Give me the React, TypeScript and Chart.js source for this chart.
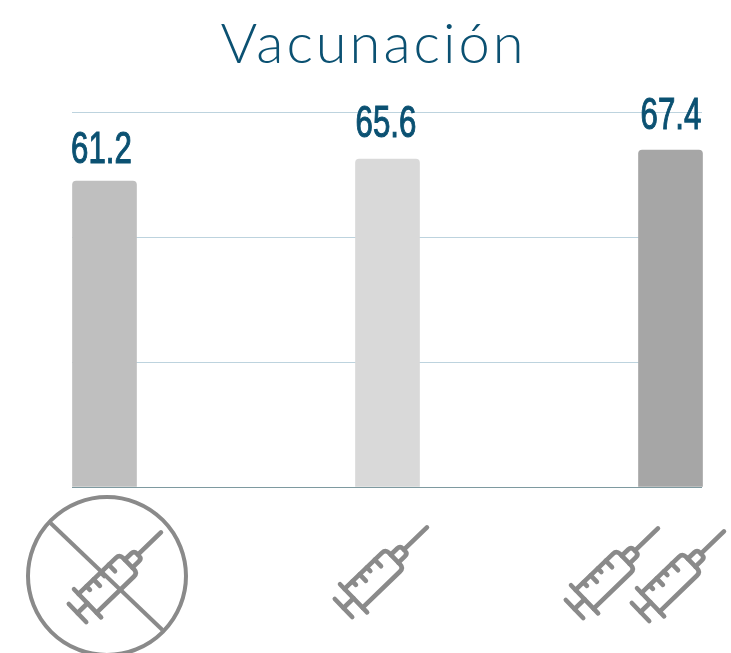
import React, { useEffect, useRef } from "react";
import { Chart, registerables } from "chart.js";

Chart.register(...registerables);

const categories = ["Sin vacuna", "Una dosis", "Dos dosis"];
const values = [61.2, 65.6, 67.4];
const barColors = ["#BFBFBF", "#D9D9D9", "#A6A6A6"];
const doses = [0, 1, 2];
const yTicks = [0, 25, 50, 75];
const titleText = "Vacunación";

const BLUE = "#0B5172";
const ICON = "#8A8A8A";
const labelShift = [[-3, -18], [-1.5, -22], [0.5, -21]];

function syringe(ctx: CanvasRenderingContext2D, hx: number, hy: number) {
  ctx.save();
  ctx.translate(hx, hy);
  ctx.rotate(-Math.PI / 180 * 44);
  ctx.strokeStyle = ICON;
  ctx.lineWidth = 4.6;
  ctx.lineCap = "round";
  ctx.lineJoin = "round";
  const line = (a: number, b: number, c: number, d: number) => {
    ctx.beginPath();
    ctx.moveTo(a, b);
    ctx.lineTo(c, d);
    ctx.stroke();
  };
  line(0, -12.5, 0, 12.5);
  line(0, 0, 14, 0);
  line(14, -19.5, 14, 19.5);
  ctx.beginPath();
  ctx.moveTo(14, -13);
  ctx.lineTo(66, -13);
  ctx.quadraticCurveTo(71, -13, 71, -8);
  ctx.lineTo(71, 8);
  ctx.quadraticCurveTo(71, 13, 66, 13);
  ctx.lineTo(14, 13);
  ctx.stroke();
  ctx.beginPath();
  ctx.moveTo(71, -5.5);
  ctx.lineTo(80, -5.5);
  ctx.quadraticCurveTo(84, -5.5, 84, -1.5);
  ctx.lineTo(84, 1.5);
  ctx.quadraticCurveTo(84, 5.5, 80, 5.5);
  ctx.lineTo(71, 5.5);
  ctx.stroke();
  line(84, 0, 116, 0);
  [[25, 5], [35, 9], [45, 5], [56, 9]].forEach(([t, l]) => line(t, -13, t, -13 + l));
  ctx.restore();
}

const decor = {
  id: "decor",
  beforeDraw(chart: any) {
    (chart.ctx as any).letterSpacing = "3px";
  },
  afterDatasetsDraw(chart: any) {
    const ctx: CanvasRenderingContext2D = chart.ctx;
    (ctx as any).letterSpacing = "0px";
    const meta = chart.getDatasetMeta(0);
    ctx.save();
    ctx.fillStyle = BLUE;
    ctx.strokeStyle = BLUE;
    ctx.lineWidth = 1.1;
    ctx.textAlign = "center";
    ctx.textBaseline = "alphabetic";
    ctx.font = '44px "Liberation Sans Narrow", "Liberation Sans"';
    meta.data.forEach((bar: any, i: number) => {
      ctx.save();
      ctx.translate(bar.x + labelShift[i][0], bar.y + labelShift[i][1]);
      ctx.scale(0.71, 1);
      ctx.fillText(values[i].toFixed(1), 0, 0);
      ctx.strokeText(values[i].toFixed(1), 0, 0);
      ctx.restore();
    });
    ctx.restore();

    const base = chart.chartArea.bottom;
    meta.data.forEach((bar: any, i: number) => {
      const n = doses[i];
      if (n === 0) {
        ctx.save();
        ctx.strokeStyle = ICON;
        ctx.lineWidth = 4;
        ctx.beginPath();
        ctx.arc(bar.x + 2.5, base + 89, 79, 0, Math.PI * 2);
        ctx.stroke();
        ctx.beginPath();
        ctx.moveTo(bar.x - 54, base + 36);
        ctx.lineTo(bar.x + 58, base + 143);
        ctx.stroke();
        ctx.restore();
        syringe(ctx, bar.x - 27, base + 126);
      } else if (n === 1) {
        syringe(ctx, bar.x - 44, base + 121);
      } else {
        syringe(ctx, bar.x - 96, base + 122);
        syringe(ctx, bar.x - 30, base + 125);
      }
    });
  },
};

export default function App() {
  const ref = useRef<HTMLCanvasElement>(null);
  useEffect(() => {
    const chart = new Chart(ref.current!, {
      type: "bar",
      data: {
        datasets: [
          {
            data: categories.map((_, i) => ({ x: i, y: values[i] })) as any,
            backgroundColor: barColors,
            barThickness: 64,
            borderRadius: { topLeft: 4, topRight: 4, bottomLeft: 0, bottomRight: 0 },
            borderSkipped: "bottom",
            clip: false as any,
          },
        ],
      },
      options: {
        animation: false,
        responsive: false,
        layout: { padding: { left: 45, right: 29, top: 0, bottom: 166 } },
        plugins: {
          legend: { display: false },
          tooltip: { enabled: false },
          title: {
            display: true,
            text: titleText,
            color: BLUE,
            font: { family: "Lato", size: 56, weight: "300", lineHeight: 1.2 },
            padding: { top: 11, bottom: 34 },
          },
        },
        scales: {
          x: {
            type: "linear",
            offset: false,
            min: -0.1148,
            max: 2.1113,
            display: false,
          },
          y: {
            min: 0,
            max: 75,
            afterBuildTicks: (s: any) => {
              s.ticks = yTicks.map((value) => ({ value }));
            },
            afterFit: (s: any) => {
              s.width = 27;
            },
            ticks: { display: false },
            border: { display: false },
            grid: {
              tickLength: 0,
              lineWidth: 1,
              color: (c: any) => (c.tick && c.tick.value === 0 ? "#7E9AA0" : "#BDD3DE"),
            },
          },
        },
      },
      plugins: [decor],
    });
    return () => chart.destroy();
  }, []);
  return (
    <div style={{ position: "absolute", left: 0, top: 0, width: 731, height: 653, overflow: "hidden", background: "#fff" }}>
      <canvas ref={ref} width={731} height={653} style={{ display: "block" }} />
    </div>
  );
}
